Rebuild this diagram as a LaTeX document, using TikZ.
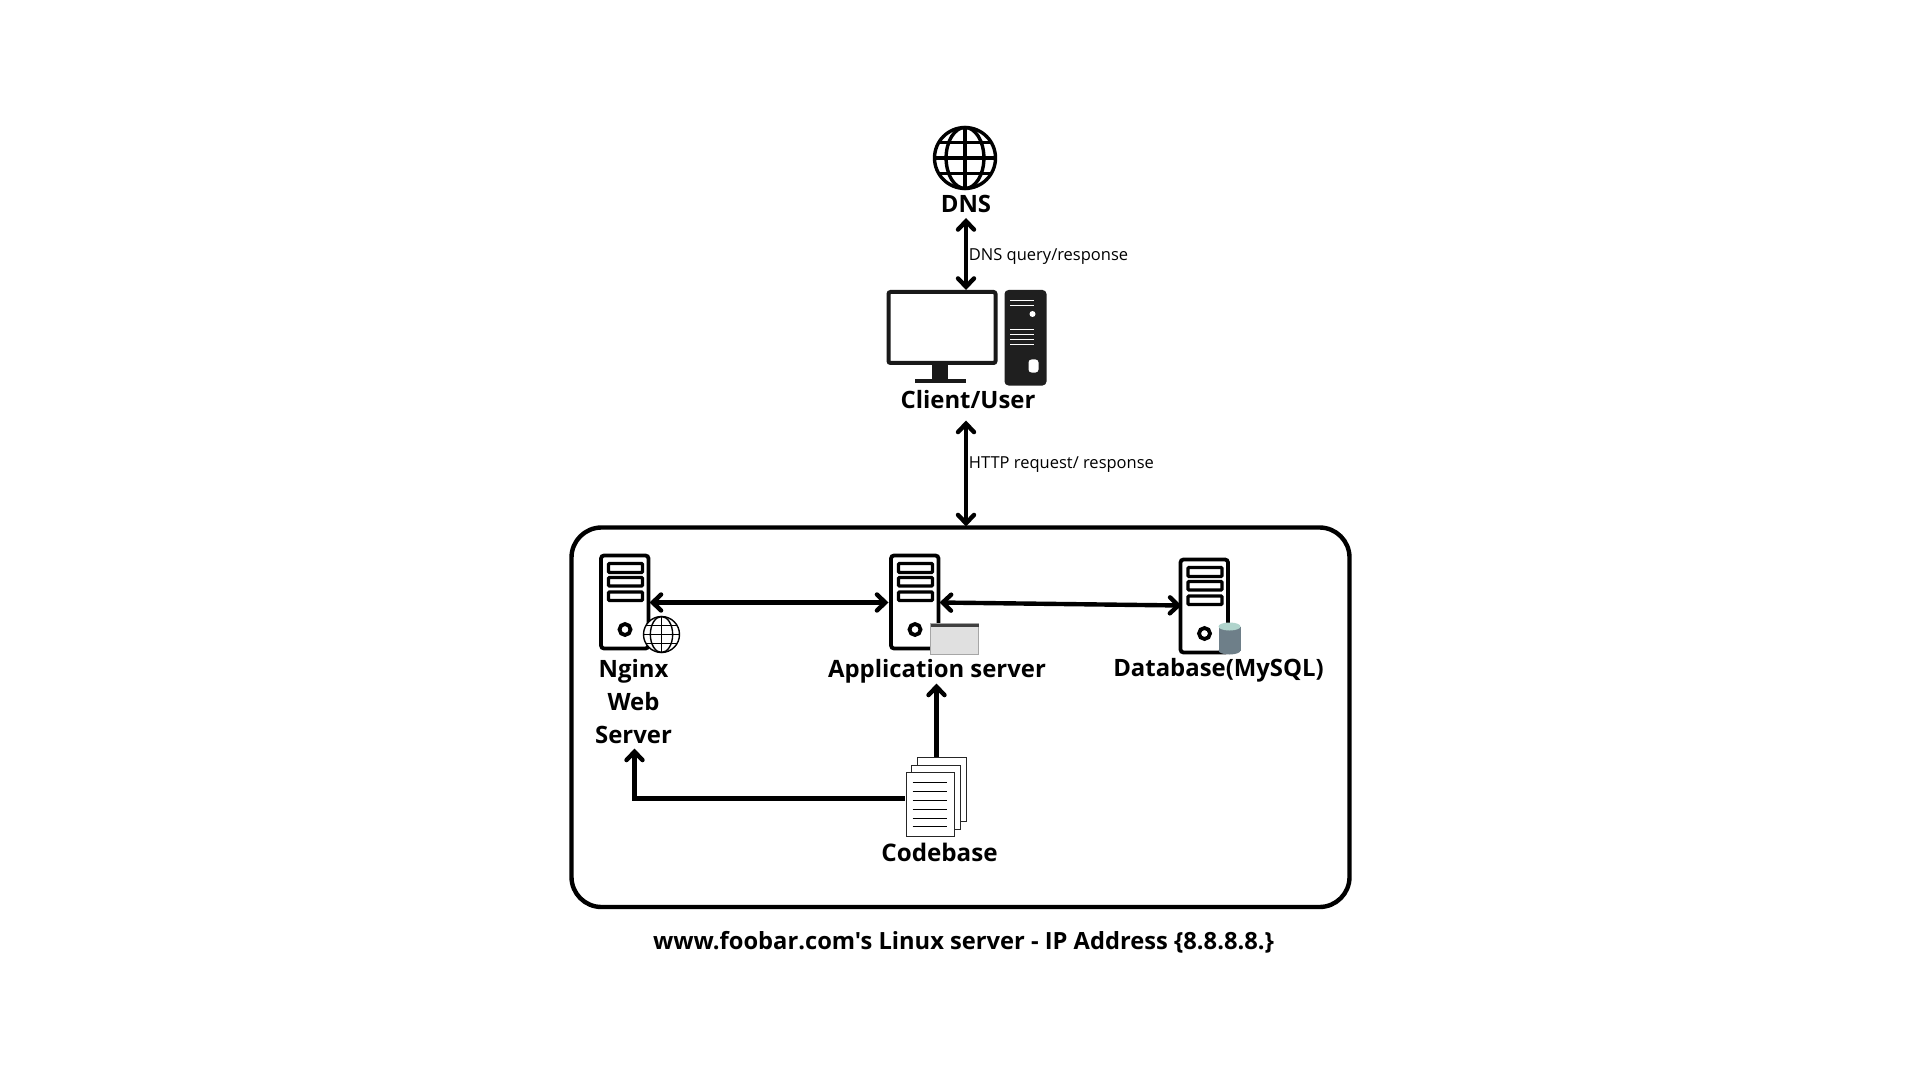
\documentclass[tikz,border=0pt]{standalone}
\usepackage{fontspec}
\setmainfont{Open Sans}
\newfontfamily\plainfont{Open Sans}
\usetikzlibrary{arrows.meta}
\definecolor{cylbody}{HTML}{6E7F89}
\definecolor{cyltop}{HTML}{B0D4CC}
\tikzset{
  title/.style={font=\fontsize{11.95}{14}\selectfont\bfseries,anchor=base,inner sep=0pt,text=black},
  small/.style={font=\fontsize{8.25}{10}\selectfont,anchor=base west,inner sep=0pt,text=black},
  conn/.style={draw=black,line width=2.2pt},
  two/.style={conn,{Straight Barb[length=4.2pt,width=8pt,line cap=round]}-{Straight Barb[length=4.2pt,width=8pt,line cap=round]}},
  one/.style={conn,-{Straight Barb[length=4.2pt,width=8pt,line cap=round]}},
  srv/.style={draw=black,line width=1.9pt,rounded corners=1.5pt,fill=white},
  slot/.style={draw=black,line width=1.7pt,fill=white,rounded corners=.5pt},
  page/.style={draw=black!85,line width=.65pt,fill=white},
}
\newcommand{\myglobe}[4]{%
  \begin{scope}[shift={(#1,#2)},line width=#4]
    \fill[white] (0,0) circle[radius=#3];
    \draw (0,0) circle[radius=#3];
    \draw (0,0) ellipse[x radius=.62*#3,y radius=#3];
    \draw (0,-#3) -- (0,#3);
    \draw (-#3,0) -- (#3,0);
    \draw (-.86*#3,-.51*#3) -- (.86*#3,-.51*#3);
    \draw (-.86*#3,.51*#3) -- (.86*#3,.51*#3);
  \end{scope}}
\newcommand{\myserver}[3]{% left, top, height
  \begin{scope}[shift={(#1,#2)}]
    \draw[srv] (0,0) rectangle (47.5,#3);
    \draw[slot] (7.5,8) rectangle (41.5,17);
    \draw[slot] (7.5,22) rectangle (41.5,30.5);
    \draw[slot] (7.5,36.5) rectangle (41.5,45);
    \draw[line width=1.9pt] (24,#3-19) circle[radius=5.5];
  \end{scope}}
\begin{document}
\begin{tikzpicture}[x=.5pt,y=-.5pt]
\useasboundingbox (0,0) rectangle (1920,1080);
\fill[white] (0,0) rectangle (1920,1080);
\begin{scope}[shift={(-2.5,-1.5)}]

% DNS
\myglobe{967.5}{159.5}{30.5}{1.7pt}
\node[title] (dnst) at (968.5,214.5) {DNS};
\coordinate (dnsb) at (968.5,219.5);
\node[small] (dnsl) at (971,262) {DNS query/response};

% Client
\draw[line width=2pt,draw=black!90,rounded corners=1pt,fill=white] (891,293.5) rectangle (998,364.5);
\fill[black!90] (934,365) rectangle (950,380);
\fill[black!90] (917,380) rectangle (968,384);
\fill[black!88,rounded corners=2pt] (1007,291.5) rectangle (1049,387);
\begin{scope}[white,line width=.55pt]
  \draw (1012.5,302) -- (1036.5,302);
  \draw (1012.5,307) -- (1036.5,307);
  \draw (1012.5,331) -- (1036.5,331);
  \draw (1012.5,336) -- (1036.5,336);
  \draw (1012.5,341) -- (1036.5,341);
  \draw (1012.5,346) -- (1036.5,346);
\end{scope}
\fill[white] (1035,315.5) circle[radius=3];
\fill[white,rounded corners=1.5pt] (1031,361) rectangle (1041,374);
\node[title] (clientt) at (970.5,410) {Client/User};
\coordinate (clienttop) at (968.5,291.5);
\coordinate (clientb) at (968.5,422);

% Frame
\draw[line width=2.2pt,rounded corners=15pt] (574,529) rectangle (1352,908.5);
\coordinate (frametop) at (968.5,528);
\node[small] (httpl) at (971,470) {HTTP request/ response};

\draw[two] (dnsb) -- (clienttop);
\draw[two] (clientb) -- (frametop);

% Nginx
\myserver{603.5}{557}{93}
\myglobe{664}{636}{18}{.7pt}
\node[title] at (636,678.5) {Nginx};
\node[title] at (636,711.5) {Web};
\node[title] at (636,744.5) {Server};
\coordinate (nginxr) at (652,604);
\coordinate (nginxb) at (637,750);

% App
\myserver{893.5}{557}{93}
\fill[black!12!white] (933,625) rectangle (981,656);
\draw[black!35,line width=.5pt] (933,625) rectangle (981,656);
\fill[black!75] (933,625) rectangle (981,628.5);
\node[title] at (939.5,678.5) {Application server};
\coordinate (appl) at (891,604);
\coordinate (appr) at (942,604);
\coordinate (appb) at (939,685);

% DB
\myserver{1183}{561}{93}
\fill[cylbody] (1221,628) rectangle (1243,652);
\fill[cylbody] (1232,652) ellipse[x radius=11,y radius=4];
\fill[cyltop] (1232,628) ellipse[x radius=11,y radius=4];
\node[title] at (1221,678) {Database(MySQL)};
\coordinate (dbl) at (1184,607);

\draw[two] (nginxr) -- (appl);
\draw[two] (appr) -- (dbl);

% Codebase
\draw[page] (920,759) rectangle (969,823);
\draw[page] (914,767) rectangle (963,831);
\draw[page] (909,774) rectangle (957,838);
\foreach \yy in {784,793,802,811,820,828} \draw[black,line width=.45pt] (915,\yy) -- (949,\yy);
\node[title,font=\fontsize{12.1}{14}\selectfont\bfseries] at (942,863) {Codebase};
\coordinate (docl) at (907,800);
\coordinate (doct) at (939,758);

\draw[one] (doct) -- (appb);
\draw[one] (docl) -| (nginxb);

% Caption
\node[title,font=\plainfont\fontsize{11.85}{14}\selectfont\bfseries] at (966,951) {www.foobar.com's Linux server - IP Address \{8.8.8.8.\}};
\end{scope}
\end{tikzpicture}
\end{document}
